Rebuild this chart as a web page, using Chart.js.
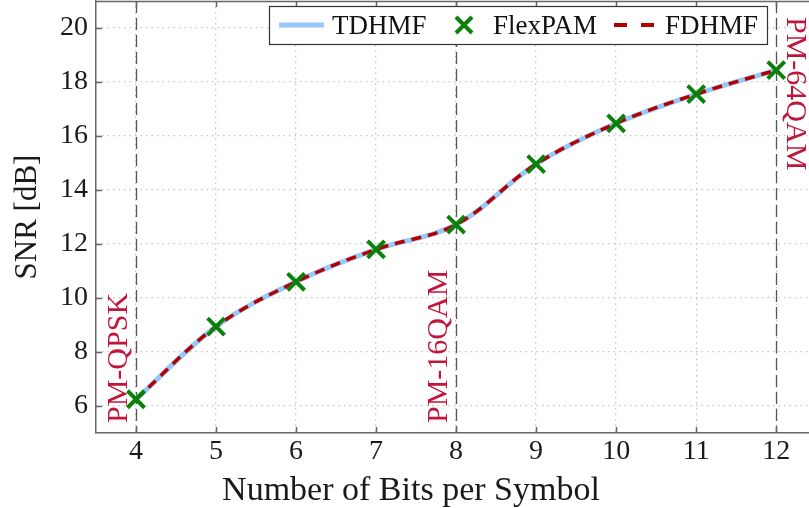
<!DOCTYPE html>
<html>
<head>
<meta charset="utf-8">
<script src="https://cdn.jsdelivr.net/npm/chart.js@4.4.1/dist/chart.umd.min.js"></script>
<style>
  html, body { margin: 0; padding: 0; background: #fff; overflow: hidden; }
</style>
</head>
<body>
<canvas id="snrChart" width="809" height="508"></canvas>
<script>
// Values
const bits = [4, 5, 6, 7, 8, 9, 10, 11, 12];
const snrTDHMF = [6.25, 8.94, 10.6, 11.8, 12.72, 14.96, 16.47, 17.55, 18.44];
const snrFlexPAM = [6.25, 8.94, 10.6, 11.8, 12.72, 14.96, 16.47, 17.55, 18.44];
const snrFDHMF = [6.25, 8.94, 10.6, 11.8, 12.72, 14.96, 16.47, 17.55, 18.44];

const xTicks = [4, 5, 6, 7, 8, 9, 10, 11, 12];
const yTicks = [6, 8, 10, 12, 14, 16, 18, 20];

// modulation formats marked with vertical lines
const formatBits = [4, 8, 12];
const formatNames = ["PM-QPSK", "PM-16QAM", "PM-64QAM"];

const serif = "'Liberation Serif', 'Times New Roman', serif";
const blue = "#96c8fa";
const green = "#0a820a";
const red = "#b40000";
const formatRed = "#c2153a";

const toPoints = ys => bits.map((b, i) => ({ x: b, y: ys[i] }));

function drawCross(ctx, x, y, r) {
  ctx.beginPath();
  ctx.moveTo(x - r, y - r); ctx.lineTo(x + r, y + r);
  ctx.moveTo(x - r, y + r); ctx.lineTo(x + r, y - r);
  ctx.stroke();
}

const decorations = {
  id: "decorations",
  beforeDatasetsDraw(chart) {
    const { ctx, chartArea: a, scales: { x } } = chart;
    ctx.save();
    // vertical dashed lines at the modulation formats
    ctx.strokeStyle = "#555";
    ctx.lineWidth = 1.3;
    ctx.setLineDash([12, 5]);
    formatBits.forEach(b => {
      const px = Math.round(x.getPixelForValue(b)) + 0.5;
      ctx.beginPath();
      ctx.moveTo(px, a.top);
      ctx.lineTo(px, a.bottom);
      ctx.stroke();
    });
    ctx.restore();
  },
  afterDatasetsDraw(chart) {
    const { ctx, chartArea: a, scales: { x, y } } = chart;
    ctx.save();

    // top frame and inward tick marks
    ctx.strokeStyle = "#666";
    ctx.lineWidth = 1.5;
    ctx.beginPath();
    ctx.moveTo(a.left, a.top + 0.5);
    ctx.lineTo(a.right, a.top + 0.5);
    xTicks.forEach(v => {
      const px = Math.round(x.getPixelForValue(v)) + 0.5;
      ctx.moveTo(px, a.bottom); ctx.lineTo(px, a.bottom - 6);
      ctx.moveTo(px, a.top); ctx.lineTo(px, a.top + 6);
    });
    yTicks.forEach(v => {
      const py = Math.round(y.getPixelForValue(v)) + 0.5;
      ctx.moveTo(a.left, py); ctx.lineTo(a.left + 6, py);
    });
    ctx.stroke();

    // format labels
    ctx.fillStyle = formatRed;
    ctx.font = "30px " + serif;
    ctx.textBaseline = "alphabetic";
    ctx.textAlign = "left";
    formatNames.forEach((name, i) => {
      const px = x.getPixelForValue(formatBits[i]);
      ctx.save();
      if (i < formatNames.length - 1) {
        ctx.translate(px - 9, a.bottom - 10);
        ctx.rotate(-Math.PI / 2);
      } else {
        ctx.translate(px + 11, a.top + 16);
        ctx.rotate(Math.PI / 2);
      }
      ctx.fillText(name, 0, 0);
      ctx.restore();
    });

    // legend
    const ds = chart.data.datasets;
    ctx.fillStyle = "#fff";
    ctx.fillRect(269, 6, 498, 38);
    ctx.strokeStyle = "#333";
    ctx.lineWidth = 1.2;
    ctx.strokeRect(269.5, 6.5, 498, 38);
    ctx.font = "27px " + serif;
    ctx.fillStyle = "#111";
    ctx.lineCap = "butt";

    ctx.strokeStyle = ds[0].borderColor;
    ctx.lineWidth = 5;
    ctx.beginPath(); ctx.moveTo(279, 25); ctx.lineTo(324, 25); ctx.stroke();
    ctx.fillText(ds[0].label, 332, 34);

    ctx.strokeStyle = ds[1].pointBorderColor;
    ctx.lineWidth = 4;
    drawCross(ctx, 464, 25, 8);
    ctx.fillText(ds[1].label, 493, 34);

    ctx.strokeStyle = ds[2].borderColor;
    ctx.lineWidth = 4;
    ctx.setLineDash([13, 14]);
    ctx.beginPath(); ctx.moveTo(614, 25); ctx.lineTo(655, 25); ctx.stroke();
    ctx.setLineDash([]);
    ctx.fillText(ds[2].label, 665, 34);

    // x axis title
    ctx.fillStyle = "#1a1a1a";
    ctx.font = "34px " + serif;
    ctx.textAlign = "center";
    ctx.fillText("Number of Bits per Symbol", 411, 500);

    ctx.restore();
  }
};

const ctx = document.getElementById("snrChart").getContext("2d");
const snrChart = new Chart(ctx, {
  type: "line",
  data: {
    datasets: [{
      label: "TDHMF",
      data: toPoints(snrTDHMF),
      borderColor: blue,
      borderWidth: 5,
      pointRadius: 0,
      tension: 0.35,
      order: 3,
    }, {
      label: "FlexPAM",
      data: toPoints(snrFlexPAM),
      showLine: false,
      pointStyle: "crossRot",
      pointRadius: 12,
      pointBorderWidth: 4,
      pointBorderColor: green,
      borderColor: green,
      order: 1,
    }, {
      label: "FDHMF",
      data: toPoints(snrFDHMF),
      borderColor: red,
      borderWidth: 3.5,
      borderDash: [10, 7],
      pointRadius: 0,
      tension: 0.35,
      order: 2,
    }],
  },
  options: {
    responsive: false,
    animation: false,
    layout: { autoPadding: false, padding: { top: 1, right: 0, left: 0, bottom: 0 } },
    plugins: {
      legend: { display: false },
      tooltip: { enabled: false },
    },
    scales: {
      x: {
        type: "linear",
        min: 3.5,
        max: 12.41,
        afterBuildTicks: s => { s.ticks = xTicks.map(v => ({ value: v })); },
        afterFit: s => { s.height = 75; s.paddingLeft = 0; s.paddingRight = 0; },
        grid: { color: "#c4c4c4", lineWidth: 1.3, drawTicks: false },
        border: { color: "#666", width: 1.5, dash: [1.5, 4] },
        ticks: {
          font: { family: serif, size: 28 },
          color: "#1a1a1a",
          padding: 2,
          maxRotation: 0,
        },
      },
      y: {
        min: 5,
        max: 21,
        afterBuildTicks: s => { s.ticks = yTicks.map(v => ({ value: v })); },
        afterFit: s => { s.width = 96; s.paddingTop = 0; s.paddingBottom = 0; },
        grid: { color: "#c4c4c4", lineWidth: 1.3, drawTicks: false },
        border: { color: "#666", width: 1.5, dash: [1.5, 4] },
        ticks: {
          font: { family: serif, size: 28 },
          color: "#1a1a1a",
          padding: 8,
        },
        title: {
          display: true,
          text: "SNR [dB]",
          color: "#1a1a1a",
          font: { family: serif, size: 31, lineHeight: 1 },
          padding: { top: 12, bottom: 0 },
        },
      },
    },
  },
  plugins: [decorations],
});
</script>
</body>
</html>
